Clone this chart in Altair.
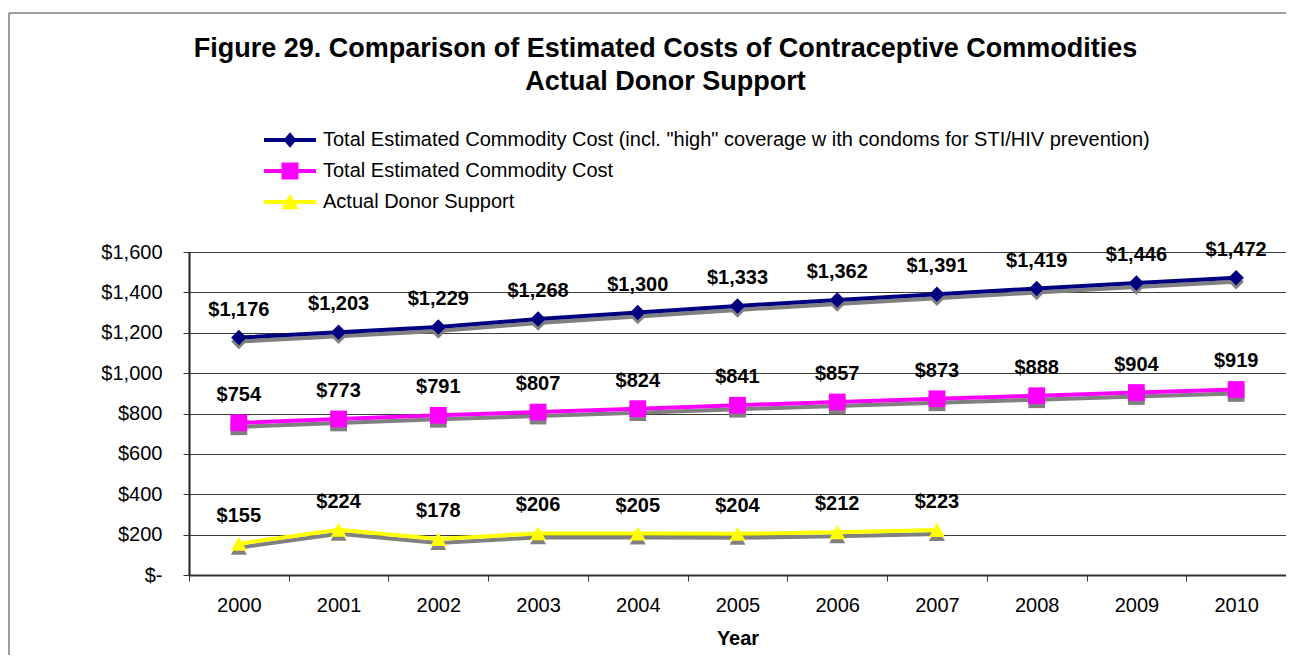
import altair as alt
import pandas as pd

years = [str(y) for y in range(2000, 2011)]
series_names = [
    'Total Estimated Commodity Cost (incl. "high" coverage w ith condoms for STI/HIV prevention)',
    "Total Estimated Commodity Cost",
    "Actual Donor Support",
]
high_cost = [1176, 1203, 1229, 1268, 1300, 1333, 1362, 1391, 1419, 1446, 1472]
total_cost = [754, 773, 791, 807, 824, 841, 857, 873, 888, 904, 919]
donor_support = [155, 224, 178, 206, 205, 204, 212, 223]
y_ticks = [0, 200, 400, 600, 800, 1000, 1200, 1400, 1600]

colors = ["#000080", "#FF00FF", "#FFFF00"]
marker_shapes = ["diamond", "square", "triangle-up"]
marker_sizes = [240, 280, 256]
bar = "M-2,-0.15H2V0.15H-2Z"
legend_paths = [
    bar + "M0,-0.6L0.5,0L0,0.6L-0.5,0Z",
    bar + "M-0.65,-0.65H0.65V0.65H-0.65Z",
    bar + "M0,-0.64L0.68,0.56H-0.68Z",
]

rows = []
for name, vals in zip(series_names, [high_cost, total_cost, donor_support]):
    for yr, v in zip(years, vals):
        rows.append({"year": yr, "series": name, "value": v})
df = pd.DataFrame(rows)

FONT = "Liberation Sans"
SHADOW = "#808080"

x_enc = alt.X(
    "year:O",
    scale=alt.Scale(type="band", domain=years, paddingInner=0, paddingOuter=0),
    axis=alt.Axis(
        title="Year", labelAngle=0, tickBand="extent", grid=False,
        domainWidth=2, domainColor="#333333", tickColor="#333333", tickSize=6,
        labelPadding=14, titleFontWeight="bold", titlePadding=13,
    ),
)
y_enc = alt.Y(
    "value:Q",
    scale=alt.Scale(domain=[0, 1600], nice=False),
    axis=alt.Axis(
        title=None, values=y_ticks, grid=True, gridColor="#3a3a3a", gridWidth=1,
        domainWidth=2, domainColor="#222222", tickColor="#333333", tickSize=6,
        labelPadding=21,
        labelExpr="datum.value == 0 ? '$-' : '$' + format(datum.value, ',')",
    ),
)

base = alt.Chart(df)
layers = []
for name, color, shp, sz in zip(series_names, colors, marker_shapes, marker_sizes):
    sub = base.transform_filter(alt.datum.series == name)
    layers.append(sub.mark_line(color=SHADOW, strokeWidth=4, yOffset=4).encode(x=x_enc, y=y_enc))
    layers.append(sub.mark_point(filled=True, color=SHADOW, shape=shp, size=sz, opacity=1, yOffset=4).encode(x=x_enc, y=y_enc))
for name, color, shp, sz in zip(series_names, colors, marker_shapes, marker_sizes):
    sub = base.transform_filter(alt.datum.series == name)
    layers.append(sub.mark_line(color=color, strokeWidth=4).encode(x=x_enc, y=y_enc))
    layers.append(sub.mark_point(filled=True, color=color, shape=shp, size=sz, opacity=1).encode(x=x_enc, y=y_enc))

labels = base.mark_text(font=FONT, fontSize=20, fontWeight="bold", color="black", dy=-28, baseline="middle").encode(
    x=x_enc, y=y_enc, text=alt.Text("value:Q", format="$,.0f")
)
layers.append(labels)

leg = alt.Legend(
    title=None, orient="none", legendX=88, legendY=-125, padding=0,
    symbolSize=676, symbolStrokeWidth=0, symbolOpacity=1, labelOffset=20,
    labelFont=FONT, labelFontSize=20, labelColor="black", labelLimit=1200, rowPadding=8,
)
legend_layer = base.transform_filter("datum.value < 0").mark_point(filled=True).encode(
    x=x_enc, y=y_enc,
    color=alt.Color("series:N", scale=alt.Scale(domain=series_names, range=colors), legend=leg),
    shape=alt.Shape("series:N", scale=alt.Scale(domain=series_names, range=legend_paths), legend=leg),
)
layers.append(legend_layer)

one = alt.Chart(pd.DataFrame({"k": [0]}))
frame_left = one.mark_rule(color="#7f7f7f", strokeWidth=1.5).encode(
    x=alt.value(-180), y=alt.value(-239), y2=alt.value(410)
)
frame_top = one.mark_rule(color="#7f7f7f", strokeWidth=1.5).encode(
    x=alt.value(-180), x2=alt.value(1097), y=alt.value(-239)
)
layers = [frame_left, frame_top] + layers

chart = alt.layer(*layers).properties(
    width=1097,
    height=323,
    autosize=alt.AutoSizeParams(type="none"),
    padding={"left": 181, "top": 244, "right": 0, "bottom": 80},
    title=alt.TitleParams(
        text=["Figure 29. Comparison of Estimated Costs of Contraceptive Commodities", "Actual Donor Support"],
        font=FONT, fontSize=27, fontWeight="bold", color="black",
        anchor="middle", dx=-72, offset=-84, lineHeight=33,
    ),
).configure_view(stroke="#808080", strokeWidth=1).configure_axis(
    labelFont=FONT, titleFont=FONT, labelFontSize=20, titleFontSize=20,
    labelColor="black", titleColor="black",
)

chart.save("out.html", embed_options={"renderer": "svg", "actions": False})
